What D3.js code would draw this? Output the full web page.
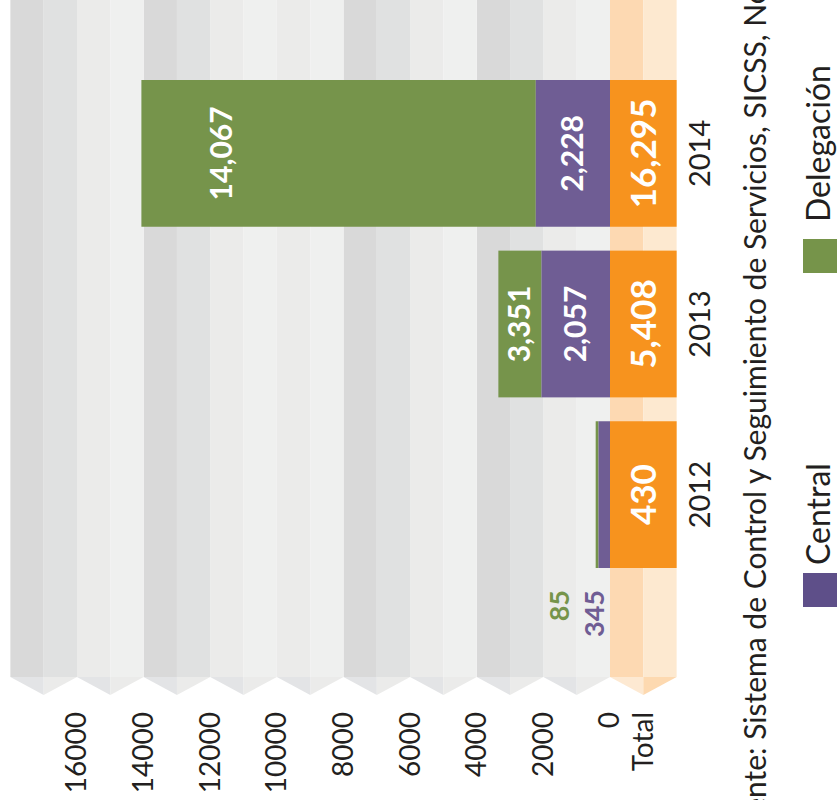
<!DOCTYPE html>
<html>
<head>
<meta charset="utf-8">
<script src="https://cdn.jsdelivr.net/npm/d3@7"></script>
<style>
  body { margin: 0; background: #fff; }
  text { font-family: Lato, "Open Sans", sans-serif; }
</style>
</head>
<body>
<div id="chart"></div>
<script>
// data
const years = ["2012", "2013", "2014"];
const central = [345, 2057, 2228];
const delegacion = [85, 3351, 14067];
const totals = [430, 5408, 16295];
const tickValues = [0, 2000, 4000, 6000, 8000, 10000, 12000, 14000, 16000];
const legendLabels = ["Central", "Delegación"];
const sourceText = "Fuente: Sistema de Control y Seguimiento de Servicios, SICSS, Noviembre 2014";

// background stripe tone per 2000 band, from 0 upward (L = light, D = dark)
const bandShades = ["L", "D", "L", "D", "L", "L", "D", "L", "D"];

const W = 837, H = 800;
const purple = "#6f5d94", green = "#76944b", orange = "#f7931e";

const svg = d3.select("#chart").append("svg")
  .attr("width", W)
  .attr("height", H);

// the chart is drawn as a normal column chart, then turned -90deg
// inside g: x = distance from page bottom, y = distance from page left
const g = svg.append("g").attr("transform", `translate(0,${H}) rotate(-90)`);

const x = d3.scaleBand()
  .domain(years)
  .range([232, 720])
  .paddingInner(0.14)
  .paddingOuter(0);

const y = d3.scaleLinear()
  .domain([0, 16000])
  .range([610, 77]);

const bandH = y(0) - y(2000);
const baseU = 123, tipU = 105;

// gray stripes
const shades = { L: ["#ebebea", "#eff0ef"], D: ["#d9d9d9", "#e0e1e1"] };
bandShades.forEach((s, i) => {
  const v0 = y(2000 * (i + 1)), v1 = y(2000 * i), vc = (v0 + v1) / 2;
  g.append("rect").attr("x", baseU).attr("width", H - baseU + 5)
    .attr("y", v0).attr("height", vc - v0).attr("fill", shades[s][0]);
  g.append("rect").attr("x", baseU).attr("width", H - baseU + 5)
    .attr("y", vc).attr("height", v1 - vc).attr("fill", shades[s][1]);
  g.append("polygon").attr("points", `${baseU},${v0} ${baseU},${vc} ${tipU},${vc}`).attr("fill", "#e3e4e6");
  g.append("polygon").attr("points", `${baseU},${vc} ${baseU},${v1} ${tipU},${vc}`).attr("fill", "#ebebea");
});

// total column
const t0 = y(0), t1 = y(0) + bandH, tc = (t0 + t1) / 2;
g.append("rect").attr("x", baseU).attr("width", H - baseU + 5)
  .attr("y", t0).attr("height", tc - t0).attr("fill", "#fdd9b2");
g.append("rect").attr("x", baseU).attr("width", H - baseU + 5)
  .attr("y", tc).attr("height", t1 - tc).attr("fill", "#fde9d0");
g.append("polygon").attr("points", `${baseU},${t0} ${baseU},${tc} ${tipU},${tc}`).attr("fill", "#fde9d2");
g.append("polygon").attr("points", `${baseU},${tc} ${baseU},${t1} ${tipU},${tc}`).attr("fill", "#fdd9b0");

// value axis
const axis = g.append("g")
  .attr("transform", "translate(91,0)")
  .call(d3.axisLeft(y).tickValues(tickValues).tickSize(0).tickPadding(3).tickFormat(d3.format("d")));
axis.select(".domain").remove();
axis.selectAll("text")
  .style("font-family", "Lato, sans-serif")
  .style("font-size", "28px")
  .attr("fill", "#231f20");

g.append("text")
  .attr("x", 88).attr("y", tc).attr("dy", "0.35em")
  .attr("text-anchor", "end")
  .style("font-size", "28px").attr("fill", "#231f20")
  .text("Total");

const rows = years.map((yr, i) => ({
  year: yr,
  central: central[i],
  deleg: delegacion[i],
  total: totals[i],
  // the source draws Delegación up to its own value when it is the larger part
  delegEnd: delegacion[i] > central[i] ? delegacion[i] : central[i] + delegacion[i]
}));

// Delegación
g.selectAll(".deleg")
  .data(rows)
  .enter()
  .append("rect")
  .attr("x", d => x(d.year))
  .attr("width", x.bandwidth())
  .attr("y", d => y(d.delegEnd))
  .attr("height", d => y(d.central) - y(d.delegEnd))
  .attr("fill", green);

// Central
g.selectAll(".central")
  .data(rows)
  .enter()
  .append("rect")
  .attr("x", d => x(d.year))
  .attr("width", x.bandwidth())
  .attr("y", d => y(d.central))
  .attr("height", d => y(0) - y(d.central))
  .attr("fill", purple);

// Total
g.selectAll(".total")
  .data(rows)
  .enter()
  .append("rect")
  .attr("x", d => x(d.year))
  .attr("width", x.bandwidth())
  .attr("y", t0)
  .attr("height", t1 - t0)
  .attr("fill", orange);

g.selectAll(".totalLabel")
  .data(rows)
  .enter()
  .append("text")
  .attr("x", d => x(d.year) + x.bandwidth() / 2)
  .attr("y", tc)
  .attr("dy", "0.36em")
  .attr("text-anchor", "middle")
  .attr("fill", "#fff")
  .style("font-size", "35px")
  .style("font-weight", "bold")
  .text(d => d3.format(",")(d.total));

// segment labels
const fmt = d3.format(",");
rows.forEach(d => {
  const cx = x(d.year) + x.bandwidth() / 2;
  const segs = [
    { v: d.central, a: y(0), b: y(d.central), color: purple, outV: y(0) - 15 },
    { v: d.deleg, a: y(d.central), b: y(d.delegEnd), color: green, outV: y(0) - 50 }
  ];
  segs.forEach(s => {
    if (s.a - s.b < 30) {
      g.append("text")
        .attr("x", x(d.year) - 22)
        .attr("y", s.outV)
        .attr("dy", "0.35em")
        .attr("text-anchor", "end")
        .attr("fill", s.color)
        .style("font-size", "27px")
        .style("font-weight", "bold")
        .text(fmt(s.v));
    } else {
      const mid = Math.min((s.a + s.b) / 2, s.b + 80);
      g.append("text")
        .attr("x", cx)
        .attr("y", mid)
        .attr("dy", "0.35em")
        .attr("text-anchor", "middle")
        .attr("fill", "#fff")
        .style("font-size", "30px")
        .style("font-weight", "bold")
        .text(fmt(s.v));
    }
  });
});

// year labels
g.selectAll(".year")
  .data(years)
  .enter()
  .append("text")
  .attr("x", d => x(d) + x.bandwidth() / 2)
  .attr("y", 700)
  .attr("dy", "0.35em")
  .attr("text-anchor", "middle")
  .attr("fill", "#231f20")
  .style("font-size", "29px")
  .text(d => d);

// source line, its start runs off the page bottom
const src = g.append("text")
  .attr("y", 766)
  .attr("fill", "#231f20")
  .style("font-size", "30px")
  .text(sourceText);
const lead = src.node().getSubStringLength(0, 3);
src.attr("x", H - 798 - lead);

// legend
const legend = [
  { label: legendLabels[0], color: "#5e4f89", u: 193, tu: 235 },
  { label: legendLabels[1], color: "#76944a", u: 527, tu: 578 }
];
legend.forEach(l => {
  g.append("rect").attr("x", l.u).attr("y", 803).attr("width", 34).attr("height", 40).attr("fill", l.color);
  g.append("text")
    .attr("x", l.tu).attr("y", 830)
    .attr("fill", "#231f20")
    .style("font-size", "32px")
    .text(l.label);
});
</script>
</body>
</html>
